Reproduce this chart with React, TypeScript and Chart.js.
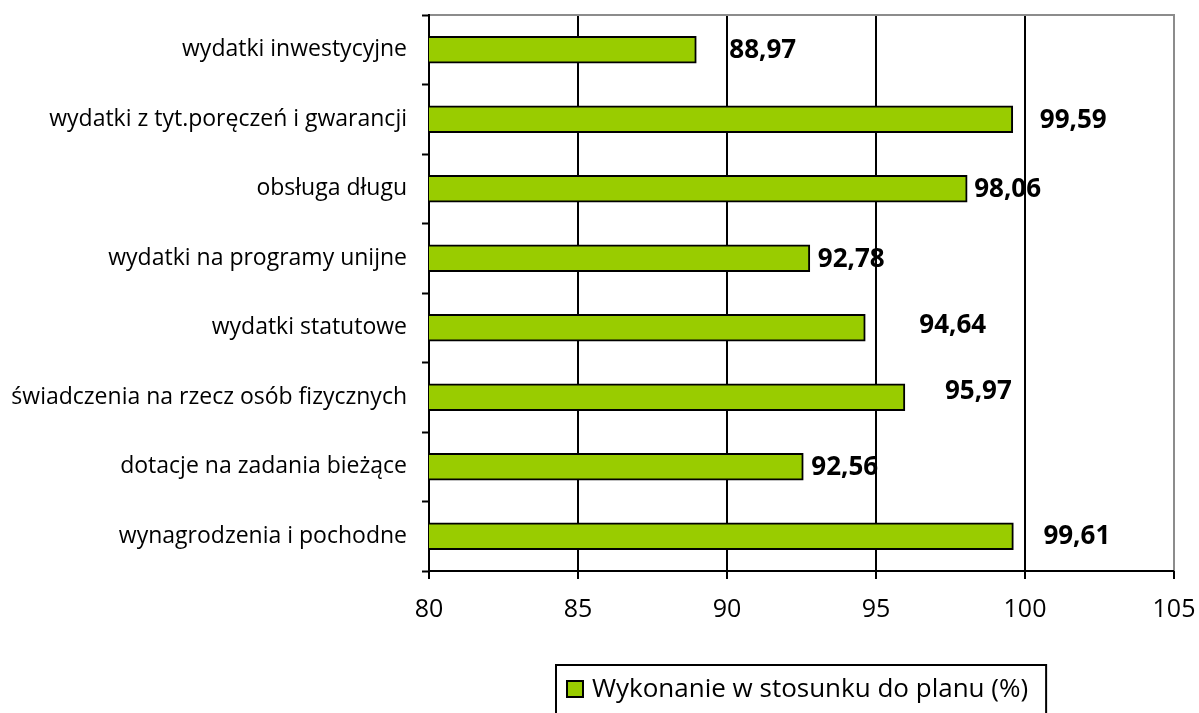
import React, { useEffect, useRef } from "react";
import { Chart, registerables } from "chart.js";

Chart.register(...registerables);

const categories = [
  "wydatki inwestycyjne",
  "wydatki z tyt.poręczeń i gwarancji",
  "obsługa długu",
  "wydatki na programy unijne",
  "wydatki statutowe",
  "świadczenia na rzecz osób fizycznych",
  "dotacje na zadania bieżące",
  "wynagrodzenia i pochodne",
];
const values = [88.97, 99.59, 98.06, 92.78, 94.64, 95.97, 92.56, 99.61];
const seriesLabel = "Wykonanie w stosunku do planu (%)";
const xTicks = [80, 85, 90, 95, 100, 105];

// label placement offsets (px) relative to bar end, mimicking the original
const labelDx = [33, 27, 7, 8, 54, 40, 8, 30];
const labelDy = [1, 1, 1, 1, -2, -6, 1, 0];

const FONT = "'Open Sans', Lato, sans-serif";
const GREEN = "#99CC00";

const decorPlugin = {
  id: "decor",
  beforeDatasetsDraw(chart: any) {
    const { ctx, chartArea } = chart;
    ctx.save();
    ctx.strokeStyle = "#8c8c8c";
    ctx.lineWidth = 2;
    ctx.beginPath();
    ctx.moveTo(chartArea.left, chartArea.top);
    ctx.lineTo(chartArea.right, chartArea.top);
    ctx.lineTo(chartArea.right, chartArea.bottom);
    ctx.stroke();
    ctx.strokeStyle = "#000";
    ctx.beginPath();
    ctx.moveTo(chartArea.left, chartArea.top - 1);
    ctx.lineTo(chartArea.left, chartArea.bottom);
    ctx.lineTo(chartArea.right, chartArea.bottom);
    ctx.stroke();
    ctx.restore();
  },
  afterDatasetsDraw(chart: any) {
    const { ctx } = chart;
    const meta = chart.getDatasetMeta(0);
    const xs = chart.scales.x;
    ctx.save();
    ctx.font = "bold 26px " + FONT;
    ctx.fillStyle = "#000";
    ctx.textBaseline = "middle";
    ctx.textAlign = "left";
    meta.data.forEach((bar: any, i: number) => {
      const v = values[i];
      const x = xs.getPixelForValue(v) + labelDx[i];
      const y = bar.y + labelDy[i];
      ctx.fillText(v.toFixed(2).replace(".", ","), x, y);
    });
    ctx.restore();
  },
  afterDraw(chart: any) {
    const { ctx } = chart;
    const ds = chart.data.datasets[0];
    ctx.save();
    ctx.font = "26px " + FONT;
    const tw = ctx.measureText(ds.label).width;
    const boxW = 36 + tw + 18;
    const cx = (chart.chartArea.left + chart.chartArea.right) / 2;
    const left = Math.round(cx - boxW / 2);
    const top = 665;
    ctx.strokeStyle = "#000";
    ctx.lineWidth = 2;
    ctx.strokeRect(left, top, boxW, 60);
    ctx.fillStyle = GREEN;
    ctx.fillRect(left + 11, 681, 16, 16);
    ctx.lineWidth = 2;
    ctx.strokeRect(left + 11, 681, 16, 16);
    ctx.fillStyle = "#000";
    ctx.textBaseline = "middle";
    ctx.fillText(ds.label, left + 36, 690);
    ctx.restore();
  },
};

export default function App() {
  const ref = useRef<HTMLCanvasElement | null>(null);
  useEffect(() => {
    if (!ref.current) return;
    const chart = new Chart(ref.current, {
      type: "bar",
      data: {
        labels: categories,
        datasets: [
          {
            label: seriesLabel,
            data: values,
            backgroundColor: GREEN,
            borderColor: "#000",
            borderWidth: 2,
            borderSkipped: false,
            barThickness: 27,
          },
        ],
      },
      options: {
        indexAxis: "y",
        animation: false,
        responsive: false,
        maintainAspectRatio: false,
        layout: { padding: { top: 15, right: 25, left: 0, bottom: 0 } },
        plugins: {
          legend: { display: false },
          tooltip: { enabled: false },
        },
        scales: {
          x: {
            min: 80,
            max: 105,
            afterBuildTicks(scale: any) {
              scale.ticks = xTicks.map((v) => ({ value: v }));
            },
            afterFit(scale: any) {
              scale.height = 142;
              scale.paddingLeft = 0;
              scale.paddingRight = 0;
            },
            border: { display: false },
            grid: {
              color: (c: any) =>
                c.tick && (c.tick.value === 80 || c.tick.value === 105) ? "rgba(0,0,0,0)" : "#000",
              lineWidth: 2,
              tickColor: "#000",
              tickLength: 8,
              tickWidth: 2,
            },
            ticks: {
              color: "#000",
              font: { family: FONT, size: 25 },
              padding: 16,
              maxRotation: 0,
            },
          },
          y: {
            afterFit(scale: any) {
              scale.width = 429;
              scale.paddingTop = 0;
              scale.paddingBottom = 0;
            },
            border: { display: false },
            grid: {
              offset: true,
              drawOnChartArea: false,
              tickColor: "#000",
              tickLength: 7,
              tickWidth: 2,
            },
            ticks: {
              color: "#000",
              font: { family: FONT, size: 23 },
              padding: 15,
            },
          },
        },
      },
      plugins: [decorPlugin],
    });
    return () => chart.destroy();
  }, []);
  return (
    <div style={{ position: "absolute", left: 0, top: 0, width: 1199, height: 713, background: "#fff" }}>
      <canvas ref={ref} width={1199} height={713} style={{ display: "block" }} />
    </div>
  );
}
